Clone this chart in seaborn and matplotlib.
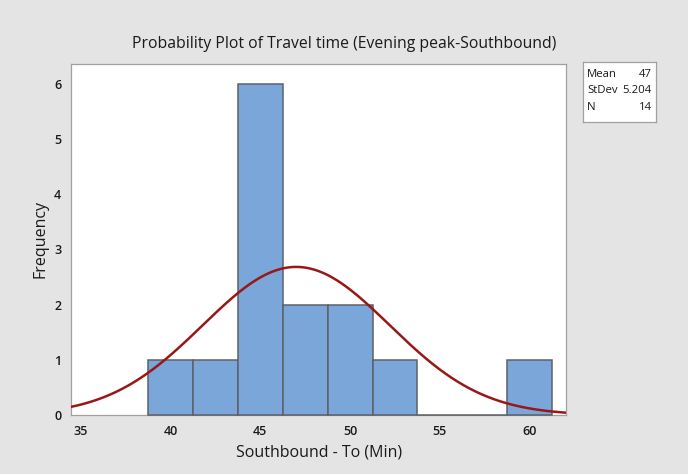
import numpy as np
import pandas as pd
import matplotlib
matplotlib.use("Agg")
import matplotlib.pyplot as plt
import seaborn as sns

bin_mids = [40.0, 42.5, 45.0, 47.5, 50.0, 52.5, 55.0, 57.5, 60.0]
counts = [1, 1, 6, 2, 2, 1, 0, 0, 1]
mean_val = 47.0
sd_val = 5.204
n_val = 14
bin_width = 2.5
x_ticks = [35, 40, 45, 50, 55, 60]
y_ticks = [0, 1, 2, 3, 4, 5, 6]

sns.set_theme(style="white")
plt.rcParams['font.family'] = ['Open Sans', 'DejaVu Sans']

fig = plt.figure(figsize=(6.88, 4.74), dpi=100)
fig.patch.set_facecolor('#e4e4e4')
ax = fig.add_axes([0.1032, 0.1245, 0.7202, 0.7405])
ax.set_facecolor('white')

df = pd.DataFrame({"mid": bin_mids, "count": counts})
edges = [m - bin_width / 2 for m in bin_mids] + [bin_mids[-1] + bin_width / 2]
sns.histplot(data=df, x="mid", weights="count", bins=edges, ax=ax,
             color="#7aa6d9", edgecolor="#5c6168", linewidth=1.1, alpha=1.0)
for p in ax.patches:
    p.set_zorder(3)
    p.set_clip_on(False)

xs = np.linspace(34.46, 62.05, 400)
ys = n_val * bin_width * np.exp(-0.5 * ((xs - mean_val) / sd_val) ** 2) / (sd_val * np.sqrt(2 * np.pi))
sns.lineplot(x=xs, y=ys, ax=ax, color="#981818", linewidth=1.8, zorder=4)

ax.set_xlim(34.46, 62.05)
ax.set_ylim(0, 6.36)
ax.set_xticks(x_ticks)
ax.set_yticks(y_ticks)
ax.tick_params(axis='both', which='both', direction='out', length=4, width=0.8,
               color='#9a9a9a', labelsize=9, labelcolor='#1a1a1a', pad=3)
for lbl in ax.get_xticklabels() + ax.get_yticklabels():
    lbl.set_fontweight('semibold')
for s in ax.spines.values():
    s.set_color('#a0a0a0')
    s.set_linewidth(0.9)

ax.set_xlabel("Southbound - To (Min)", fontsize=11.5, color='#1a1a1a', labelpad=5)
ax.set_ylabel("Frequency", fontsize=11.5, color='#1a1a1a', labelpad=4)
fig.text(0.5, 0.907, "Probability Plot of Travel time (Evening peak-Southbound)",
         ha='center', va='center', fontsize=11.3, color='#1a1a1a')

# stats box
box = fig.add_axes([0.847, 0.742, 0.106, 0.127])
box.set_facecolor('white')
box.set_xticks([]); box.set_yticks([])
for s in box.spines.values():
    s.set_color('#a0a0a0'); s.set_linewidth(0.9)
labels = ["Mean", "StDev", "N"]
vals = [f"{mean_val:g}", f"{sd_val}", f"{n_val}"]
for i, (l, v) in enumerate(zip(labels, vals)):
    yy = 0.79 - i * 0.27
    box.text(0.06, yy, l, transform=box.transAxes, fontsize=8.2, va='center', ha='left', color='#1a1a1a')
    box.text(0.95, yy, v, transform=box.transAxes, fontsize=8.2, va='center', ha='right', color='#1a1a1a')

fig.savefig("out.png", dpi=100, facecolor=fig.get_facecolor())
